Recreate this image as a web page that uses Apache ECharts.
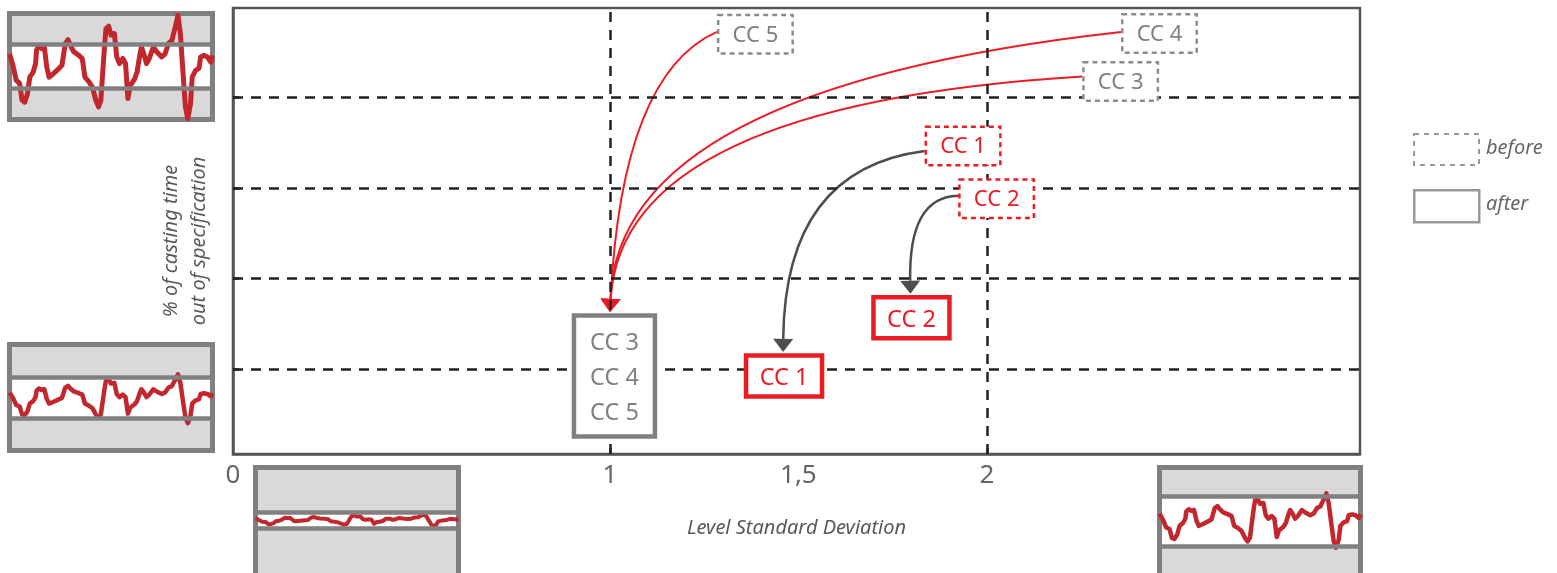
<!DOCTYPE html>
<html>
<head>
<meta charset="utf-8">
<script src="https://cdn.jsdelivr.net/npm/echarts@6/dist/echarts.min.js"></script>
<style>html,body{margin:0;padding:0;background:#fff}#c{width:1557px;height:573px}</style>
</head>
<body>
<div id="c"></div>
<script>
// ---------- data ----------
const xTickValues = [0, 1, 1.5, 2];
const stdLines = [1, 2];
const levelLines = [1, 2, 3, 4];

const beforeLabels = ['CC 1', 'CC 2', 'CC 3', 'CC 4', 'CC 5'];
const beforeX = [1.937, 2.026, 2.355, 2.458, 1.386];
const beforeY = [3.46, 2.88, 4.17, 4.70, 4.69];

const afterLabels = ['CC 1', 'CC 2', 'CC 3\nCC 4\nCC 5'];
const afterX = [1.462, 1.800, 1.012];
const afterY = [0.93, 1.57, 0.93];

// which "after" box each "before" box moves to
const arrowTo = [0, 1, 2, 2, 2];

// level trace (sample position, deviation)
const traceT = [35,45,55,65,72,80,88,95,105,112,115,122,130,138,145,152,160,175,190,200,
  208,215,225,240,250,258,270,280,290,298,305,315,320,328,335,345,352,360,370,378,
  385,392,405,412,420,425,432,440,448,460,470,485,495,505,515,525,533,540,548,555,
  562,570,575,585,595,600,610,620,630,635];
const traceV = [0.24,0.02,-0.27,-0.33,-0.65,-0.69,-0.53,-0.21,-0.11,0.05,
  0.31,0.40,0.34,0.37,-0.01,-0.21,-0.17,-0.08,0.02,0.44,
  0.51,0.40,0.28,0.21,0.15,-0.21,-0.30,-0.40,-0.65,-0.78,
  -0.65,0.31,0.72,0.77,0.60,0.63,0.18,0.05,0.15,0.05,
  -0.62,-0.37,-0.24,-0.11,0.21,0.37,0.24,0.05,0.15,0.37,
  0.28,0.18,0.24,0.44,0.50,0.76,0.98,0.63,-0.14,-0.78,
  -1.01,-0.72,-0.21,-0.08,-0.04,0.18,0.21,0.18,0.08,0.21];

// ---------- styling / layout ----------
const FONT = '"Noto Sans", "DejaVu Sans", sans-serif';
const RED = '#ed1c24';
const GRAY = '#808080';
const TRACE_RED = '#c1272d';

// inset panels: grid rect + axis range + spec band
const insets = [
  {left: 9.5, top: 13.5, width: 203, height: 106, min: -1.023, max: 1.015, lo: -0.42, hi: 0.43, lw: 5},
  {left: 9.5, top: 344.5, width: 203, height: 106, min: -2.12, max: 2.19, lo: -0.80, hi: 0.87, lw: 4.5},
  {left: 255.5, top: 467.5, width: 203, height: 115, min: -10.58, max: 8.92, lo: -1.34, hi: 1.37, lw: 4},
  {left: 1159.5, top: 467.5, width: 201, height: 115, min: -2.29, max: 1.93, lo: -0.95, hi: 0.88, lw: 4.5}
];

// arrow curve shape per "before" box: f = bend, dx = control offset, sy = start shift, ex = tip shift
const arrowGeom = [
  {f: 0.09, dx: 2, sy: 5, ex: -1},
  {f: 0.01, dx: -2, sy: -3, ex: -1},
  {f: 0.12, dx: 12, sy: -5, ex: -4.5},
  {f: 0.20, dx: 8, sy: -1.5, ex: -4.5},
  {f: 0.15, dx: 12, sy: -2.5, ex: -4.5}
];

function isRed(label) { return label === 'CC 1' || label === 'CC 2'; }

function boxRenderer(labels, isBefore) {
  return function (params, api) {
    const i = params.dataIndex;
    const p = api.coord([api.value(0), api.value(1)]);
    const label = labels[i];
    const red = isRed(label);
    const multi = label.indexOf('\n') >= 0;
    const w = isBefore ? 74.5 : (multi ? 81 : 76);
    const h = isBefore ? 38.5 : (multi ? 121 : 41);
    const col = red ? RED : GRAY;
    return {
      type: 'group',
      children: [
        {
          type: 'rect',
          shape: {x: p[0] - w / 2, y: p[1] - h / 2, width: w, height: h},
          style: {
            fill: '#fff',
            stroke: isBefore ? (red ? RED : '#8c8c8c') : col,
            lineWidth: isBefore ? 2.5 : 4.5,
            lineDash: isBefore ? [5, 4] : null
          }
        },
        {
          type: 'text',
          style: {
            text: label, x: p[0], y: p[1] + (isBefore ? 1 : 2.5),
            fill: col, font: (isBefore ? '22px ' : '23.5px ') + FONT,
            align: 'center', verticalAlign: 'middle', lineHeight: 35
          }
        }
      ]
    };
  };
}

function arrowRenderer(params, api) {
  const i = params.dataIndex;
  const g = arrowGeom[i];
  const s = api.coord([api.value(0), api.value(1)]);
  const e = api.coord([api.value(2), api.value(3)]);
  const j = arrowTo[i];
  const multi = afterLabels[j].indexOf('\n') >= 0;
  const halfH = multi ? 62.5 : 22.5;
  const sx = s[0] - 38.5, sy = s[1] + g.sy;
  const ex = e[0] + g.ex, ey = e[1] - halfH - 1.5;
  const cx = ex + g.dx, cy = sy + g.f * (ey - sy);
  let dx = ex - cx, dy = ey - cy;
  const len = Math.sqrt(dx * dx + dy * dy) || 1;
  dx /= len; dy /= len;
  const bx = ex - dx * 13, by = ey - dy * 13;
  const nx = -dy, ny = dx;
  // arrows leaving the gray boxes are red, arrows leaving the red boxes are dark gray
  const redArrow = !isRed(beforeLabels[i]);
  const col = redArrow ? RED : '#4d4d4d';
  return {
    type: 'group',
    children: [
      {
        type: 'bezierCurve',
        shape: {x1: sx, y1: sy, x2: bx, y2: by, cpx1: cx, cpy1: cy},
        style: {stroke: col, lineWidth: redArrow ? 2 : 2.5, fill: 'none'}
      },
      {
        type: 'polygon',
        shape: {points: [[ex, ey], [bx + nx * 10, by + ny * 10], [bx - nx * 10, by - ny * 10]]},
        style: {fill: col, stroke: 'none'}
      }
    ]
  };
}

// ---------- option ----------
const grids = [{left: 233, right: 197, top: 8, bottom: 119, show: true, outerBoundsMode: 'none',
  borderColor: '#555', borderWidth: 2.5, backgroundColor: '#fff'}];
const xAxes = [{
  gridIndex: 0, type: 'value', min: 0, max: 2.99,
  axisLine: {show: true, onZero: false, lineStyle: {color: '#555', width: 2.5}},
  axisTick: {show: true, customValues: stdLines, inside: true, length: 6, lineStyle: {color: '#333', width: 2.5}},
  axisLabel: {show: true, customValues: xTickValues, formatter: v => String(v).replace('.', ','), color: '#666', fontSize: 26, fontFamily: FONT, margin: 9},
  splitLine: {show: false},
  name: 'Level Standard Deviation', nameLocation: 'middle', nameGap: 64,
  nameTextStyle: {color: '#595959', fontSize: 20, fontStyle: 'italic', fontFamily: FONT}
}];
const yAxes = [{
  gridIndex: 0, type: 'value', min: 0.07, max: 4.98,
  axisLine: {show: true, onZero: false, lineStyle: {color: '#555', width: 2.5}},
  axisTick: {show: true, customValues: levelLines, inside: true, length: 6, lineStyle: {color: '#333', width: 2.5}},
  axisLabel: {show: false},
  splitLine: {show: false},
  name: '% of casting time\nout of specification', nameLocation: 'middle', nameRotate: 90, nameGap: 20,
  nameTextStyle: {color: '#595959', fontSize: 20, fontStyle: 'italic', fontFamily: FONT, lineHeight: 28, align: 'center', padding: [0, 20, 0, 0]}
}];

const series = [
  {
    name: 'grid lines', type: 'line', xAxisIndex: 0, yAxisIndex: 0, data: [], z: 1, silent: true,
    markLine: {
      silent: true, symbol: ['none', 'none'], label: {show: false}, animation: false,
      lineStyle: {color: '#222', width: 2.5, type: [10, 8]},
      emphasis: {disabled: true},
      data: stdLines.map(v => ({xAxis: v})).concat(levelLines.map(v => ({yAxis: v})))
    }
  },
  {
    name: 'arrows', type: 'custom', xAxisIndex: 0, yAxisIndex: 0, z: 4, silent: true,
    renderItem: arrowRenderer,
    encode: {x: 0, y: 1},
    data: beforeX.map((x, i) => [x, beforeY[i], afterX[arrowTo[i]], afterY[arrowTo[i]]])
  },
  {
    name: 'before', type: 'custom', xAxisIndex: 0, yAxisIndex: 0, z: 5, silent: true,
    renderItem: boxRenderer(beforeLabels, true),
    data: beforeX.map((x, i) => [x, beforeY[i]])
  },
  {
    name: 'after', type: 'custom', xAxisIndex: 0, yAxisIndex: 0, z: 5, silent: true,
    renderItem: boxRenderer(afterLabels, false),
    data: afterX.map((x, i) => [x, afterY[i]])
  }
];

const traceData = traceT.map((t, i) => [t, traceV[i]]);
insets.forEach((c, k) => {
  const idx = k + 1;
  grids.push({left: c.left, top: c.top, width: c.width, height: c.height, show: true, outerBoundsMode: 'none',
    backgroundColor: '#d9d9d9', borderColor: GRAY, borderWidth: 5});
  xAxes.push({gridIndex: idx, type: 'value', min: 35, max: 635, show: false});
  yAxes.push({gridIndex: idx, type: 'value', min: c.min, max: c.max, show: false});
  series.push({
    type: 'line', xAxisIndex: idx, yAxisIndex: idx, data: [], z: 1, silent: true,
    markArea: {silent: true, itemStyle: {color: '#fff'}, emphasis: {disabled: true},
      data: [[{xAxis: 43, yAxis: c.lo}, {xAxis: 627, yAxis: c.hi}]]},
    markLine: {silent: true, symbol: ['none', 'none'], label: {show: false}, animation: false,
      lineStyle: {color: GRAY, width: 4.5, type: 'solid'}, emphasis: {disabled: true},
      data: [{yAxis: c.lo}, {yAxis: c.hi}]}
  });
  series.push({
    type: 'line', xAxisIndex: idx, yAxisIndex: idx, z: 3, silent: true, clip: false,
    data: traceData, showSymbol: false, symbol: 'none',
    lineStyle: {color: TRACE_RED, width: c.lw, join: 'round'}
  });
});

const option = {
  backgroundColor: '#fff',
  animation: false,
  grid: grids,
  xAxis: xAxes,
  yAxis: yAxes,
  series: series,
  graphic: [
    {type: 'rect', left: 1413, top: 133, shape: {width: 65, height: 31},
      style: {fill: '#fff', stroke: '#999', lineWidth: 2, lineDash: [5, 5]}},
    {type: 'text', left: 1486, top: 138, style: {text: 'before', fill: '#666', font: 'italic 20px ' + FONT}},
    {type: 'rect', left: 1413, top: 189, shape: {width: 65, height: 32},
      style: {fill: '#fff', stroke: '#999', lineWidth: 2.5}},
    {type: 'text', left: 1486, top: 194, style: {text: 'after', fill: '#666', font: 'italic 20px ' + FONT}}
  ]
};

const chart = echarts.init(document.getElementById('c'), null, {renderer: 'canvas'});
chart.setOption(option);
</script>
</body>
</html>
